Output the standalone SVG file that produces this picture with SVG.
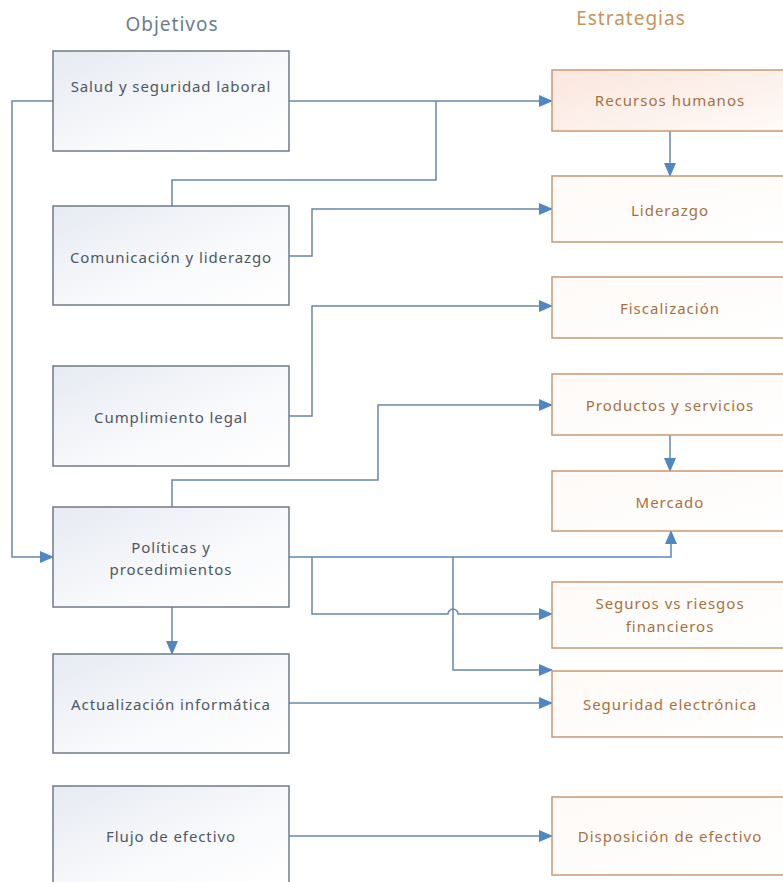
<svg xmlns="http://www.w3.org/2000/svg" width="783" height="882" viewBox="0 0 783 882">
<defs>
<linearGradient id="gl" x1="0" y1="0" x2="1" y2="1">
<stop offset="0" stop-color="#e6eaf2"/>
<stop offset="0.6" stop-color="#f9fafc"/>
<stop offset="1" stop-color="#ffffff"/>
</linearGradient>
<linearGradient id="gr" x1="0" y1="0" x2="1" y2="1">
<stop offset="0" stop-color="#fefaf7"/>
<stop offset="1" stop-color="#ffffff"/>
</linearGradient>
<linearGradient id="grh" x1="0" y1="0" x2="1" y2="1">
<stop offset="0" stop-color="#fbe6de"/>
<stop offset="0.7" stop-color="#fdf4f0"/>
<stop offset="1" stop-color="#fffbf9"/>
</linearGradient>
<marker id="ar" markerUnits="userSpaceOnUse" markerWidth="14" markerHeight="12" refX="13" refY="6" orient="auto">
<path d="M0,0 L14,6 L0,12 Z" fill="#4f86c4"/>
</marker>
</defs>
<style>
.lb{fill:url(#gl);stroke:#6f7b88;stroke-width:1.5}
.rb{fill:url(#gr);stroke:#c99872;stroke-width:1.5}
.lt{font-family:"Noto Sans","Liberation Sans",sans-serif;font-size:15px;fill:#4d5866;text-anchor:middle;dominant-baseline:central;letter-spacing:0.9px}
.rt{font-family:"Noto Sans","Liberation Sans",sans-serif;font-size:15px;fill:#a8703f;text-anchor:middle;dominant-baseline:central;letter-spacing:1px}
.c{fill:none;stroke:#6887ab;stroke-width:1.5}
.h{font-family:"Noto Sans","Liberation Sans",sans-serif;font-size:19px;text-anchor:middle;dominant-baseline:central;letter-spacing:1px}
</style>
<rect width="783" height="882" fill="#ffffff"/>
<text class="h" x="172" y="24" fill="#6b7d92">Objetivos</text>
<text class="h" x="631" y="18" fill="#c8935a">Estrategias</text>

<g id="connectors">
<path class="c" d="M289,101 H552" marker-end="url(#ar)"/>
<path class="c" d="M172,206 V180 H436 V101"/>
<path class="c" d="M53,101 H12 V557 H53" marker-end="url(#ar)"/>
<path class="c" d="M289,256 H312 V209 H552" marker-end="url(#ar)"/>
<path class="c" d="M670,131 V176" marker-end="url(#ar)"/>
<path class="c" d="M289,416 H312 V306 H552" marker-end="url(#ar)"/>
<path class="c" d="M172,507 V480 H378 V405 H552" marker-end="url(#ar)"/>
<path class="c" d="M670,435 V471" marker-end="url(#ar)"/>
<path class="c" d="M289,557 H671 V531" marker-end="url(#ar)" style="stroke:#5b87bb"/>
<path class="c" d="M312,557 V614 H448 A5,5 0 0 1 458,614 H552" marker-end="url(#ar)"/>
<path class="c" d="M453,557 V670 H552" marker-end="url(#ar)"/>
<path class="c" d="M289,703 H552" marker-end="url(#ar)"/>
<path class="c" d="M172,607 V654" marker-end="url(#ar)"/>
<path class="c" d="M289,836 H552" marker-end="url(#ar)"/>
</g>

<g id="o1"><rect class="lb" x="53" y="51" width="236" height="100"/><text class="lt" x="171" y="86">Salud y seguridad laboral</text></g>
<g id="o2"><rect class="lb" x="53" y="206" width="236" height="99"/><text class="lt" x="171" y="257">Comunicación y liderazgo</text></g>
<g id="o3"><rect class="lb" x="53" y="366" width="236" height="100"/><text class="lt" x="171" y="417">Cumplimiento legal</text></g>
<g id="o4"><rect class="lb" x="53" y="507" width="236" height="100"/><text class="lt" x="171" y="547">Políticas y</text><text class="lt" x="171" y="569">procedimientos</text></g>
<g id="o5"><rect class="lb" x="53" y="654" width="236" height="99"/><text class="lt" x="171" y="704">Actualización informática</text></g>
<g id="o6"><rect class="lb" x="53" y="786" width="236" height="100"/><text class="lt" x="171" y="836">Flujo de efectivo</text></g>

<g id="e1"><rect class="rb" x="552" y="70" width="236" height="61" style="fill:url(#grh)"/><text class="rt" x="670" y="100">Recursos humanos</text></g>
<g id="e2"><rect class="rb" x="552" y="176" width="236" height="66"/><text class="rt" x="670" y="210">Liderazgo</text></g>
<g id="e3"><rect class="rb" x="552" y="277" width="236" height="61"/><text class="rt" x="670" y="308">Fiscalización</text></g>
<g id="e4"><rect class="rb" x="552" y="374" width="236" height="61"/><text class="rt" x="670" y="405">Productos y servicios</text></g>
<g id="e5"><rect class="rb" x="552" y="471" width="236" height="60"/><text class="rt" x="670" y="502">Mercado</text></g>
<g id="e6"><rect class="rb" x="552" y="582" width="236" height="66"/><text class="rt" x="670" y="603">Seguros vs riesgos</text><text class="rt" x="670" y="626">financieros</text></g>
<g id="e7"><rect class="rb" x="552" y="671" width="236" height="66"/><text class="rt" x="670" y="704">Seguridad electrónica</text></g>
<g id="e8"><rect class="rb" x="552" y="797" width="236" height="78"/><text class="rt" x="670" y="836">Disposición de efectivo</text></g>
</svg>
